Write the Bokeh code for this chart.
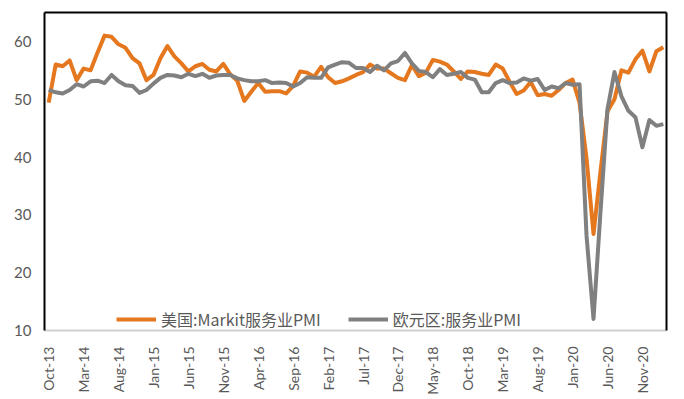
import math
from bokeh.plotting import figure
from bokeh.models import Range1d, FixedTicker, Legend, LegendItem, LinearAxis
from bokeh.embed import file_html
from bokeh.resources import INLINE

# ---- data (monthly, Oct-13 .. Feb-21) ----
tick_labels = ["Oct-13", "Mar-14", "Aug-14", "Jan-15", "Jun-15", "Nov-15",
               "Apr-16", "Sep-16", "Feb-17", "Jul-17", "Dec-17", "May-18",
               "Oct-18", "Mar-19", "Aug-19", "Jan-20", "Jun-20", "Nov-20"]
tick_step = 5

us_pmi = [
    49.4, 56.0, 55.7,
    56.7, 53.3, 55.3, 55.0, 58.1, 61.0, 60.8, 59.5, 58.9, 57.1, 56.2, 53.3,
    54.2, 57.1, 59.2, 57.4, 56.2, 54.8, 55.7, 56.1, 55.1, 54.8, 56.1, 54.3,
    53.2, 49.7, 51.3, 52.8, 51.3, 51.4, 51.4, 51.0, 52.3, 54.8, 54.6, 53.9,
    55.6, 53.8, 52.8, 53.1, 53.6, 54.2, 54.7, 56.0, 55.3, 55.3, 54.5, 53.7,
    53.3, 55.9, 54.0, 54.6, 56.8, 56.5, 56.0, 54.8, 53.5, 54.8, 54.7, 54.4,
    54.2, 56.0, 55.3, 53.0, 50.9, 51.5, 53.0, 50.7, 50.9, 50.6, 51.6, 52.8,
    53.4, 49.4, 39.8, 26.7, 37.5, 47.9, 50.0, 55.0, 54.6, 56.9, 58.4, 54.8,
    58.3, 59.0,
]

ez_pmi = [
    51.6, 51.2, 51.0,
    51.6, 52.6, 52.2, 53.1, 53.2, 52.8, 54.2, 53.1, 52.4, 52.3, 51.1, 51.6,
    52.7, 53.7, 54.2, 54.1, 53.8, 54.4, 54.0, 54.4, 53.7, 54.1, 54.2, 54.2,
    53.6, 53.3, 53.1, 53.1, 53.3, 52.8, 52.9, 52.8, 52.2, 52.8, 53.8, 53.7,
    53.7, 55.5, 56.0, 56.4, 56.3, 55.4, 55.4, 54.7, 55.8, 55.0, 56.2, 56.6,
    58.0, 56.2, 54.9, 54.7, 53.8, 55.2, 54.2, 54.4, 54.7, 53.7, 53.4, 51.2,
    51.2, 52.8, 53.3, 52.8, 52.9, 53.6, 53.2, 53.5, 51.6, 52.2, 51.9, 52.8,
    52.5, 52.6, 26.4, 12.0, 30.5, 48.3, 54.7, 50.5, 48.0, 46.9, 41.7, 46.4,
    45.4, 45.7,
]

us_label = "美国:Markit服务业PMI"
ez_label = "欧元区:服务业PMI"

months = list(range(len(us_pmi)))
tick_pos = [i * tick_step for i in range(len(tick_labels))]

x_max = len(us_pmi) - 1 + 0.45
y_min, y_max = 10, 65

p = figure(frame_width=622, frame_height=318,
           output_backend="svg", toolbar_location=None,
           x_range=Range1d(-0.6, x_max), y_range=Range1d(y_min, y_max),
           min_border_left=44, min_border_top=12, min_border_right=6,
           min_border_bottom=56,
           background_fill_color="white", border_fill_color="white")

p.outline_line_color = None
p.grid.visible = False

orange = "#E5771E"
grey = "#808080"

r_us = p.line(months, us_pmi, line_color=orange, line_width=4, line_join="round")
r_ez = p.line(months, ez_pmi, line_color=grey, line_width=4, line_join="round")

# x axis
p.xaxis.ticker = FixedTicker(ticks=tick_pos)
p.xaxis.major_label_overrides = {t: l for t, l in zip(tick_pos, tick_labels)}
p.xaxis.major_label_orientation = math.pi / 2
p.xaxis.major_label_text_font = "Lato"
p.xaxis.major_label_text_font_size = "14px"
p.xaxis.major_label_text_color = "#595959"
p.xaxis.major_label_standoff = 10
p.xaxis.major_tick_line_color = None
p.xaxis.minor_tick_line_color = None
p.xaxis.axis_line_color = "#D0D0D0"
p.xaxis.axis_line_width = 2

# y axis
p.yaxis.ticker = FixedTicker(ticks=[10, 20, 30, 40, 50, 60])
p.yaxis.major_label_text_font = "Lato"
p.yaxis.major_label_text_font_size = "15px"
p.yaxis.major_label_text_color = "#595959"
p.yaxis.major_label_standoff = 7
p.yaxis.major_tick_line_color = None
p.yaxis.minor_tick_line_color = None
p.yaxis.axis_line_color = "black"
p.yaxis.axis_line_width = 2

# plain border lines on top and right (axes without ticks or labels)
for side in ("above", "right"):
    ax = LinearAxis(ticker=FixedTicker(ticks=[]), major_label_standoff=0,
                    major_tick_line_color=None, minor_tick_line_color=None,
                    major_label_text_font_size="0px",
                    axis_line_color="black", axis_line_width=2)
    p.add_layout(ax, side)

legend = Legend(items=[LegendItem(label=us_label, renderers=[r_us]),
                       LegendItem(label=ez_label, renderers=[r_ez])],
                orientation="horizontal", location=(72, -1))
legend.glyph_width = 40
legend.glyph_height = 16
legend.label_standoff = 5
legend.spacing = 27
legend.padding = 0
legend.margin = 0
legend.label_text_font = "Noto Sans CJK SC"
legend.label_text_font_size = "16px"
legend.label_text_color = "#595959"
legend.background_fill_alpha = 0
legend.border_line_alpha = 0
p.add_layout(legend, "center")

open("out.html", "w").write(file_html(p, INLINE))
